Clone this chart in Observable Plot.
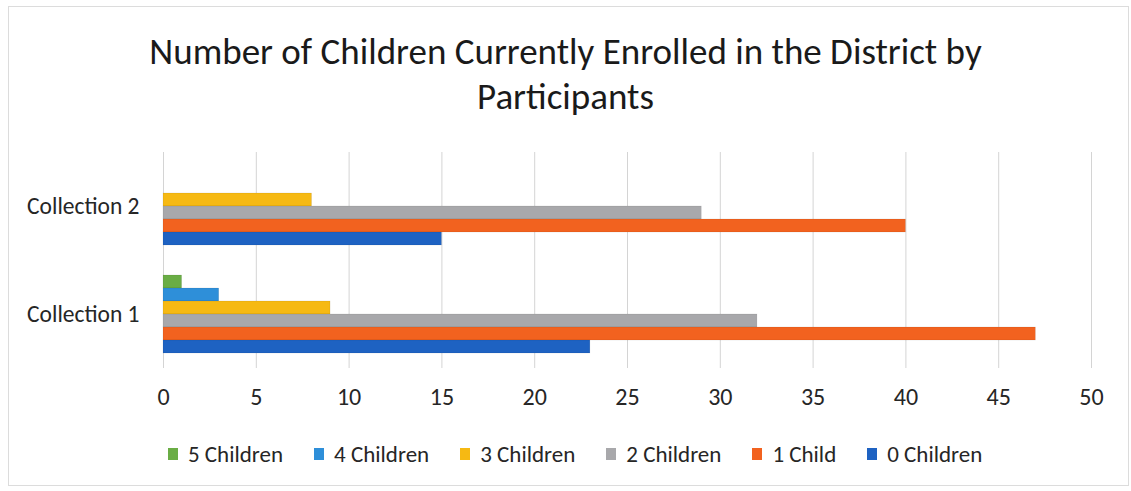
<!DOCTYPE html>
<html>
<head>
<meta charset="utf-8">
<script src="https://cdn.jsdelivr.net/npm/d3@7"></script>
<script src="https://cdn.jsdelivr.net/npm/@observablehq/plot@0.6"></script>
<style>
  html, body { margin: 0; padding: 0; background: #fff; }
  #chart {
    position: relative; width: 1131px; height: 491px; overflow: hidden;
    font-family: Carlito, Calibri, Lato, "Open Sans", sans-serif; color: #262626;
  }
  #frame {
    position: absolute; left: 8px; top: 6px; width: 1121px; height: 480px;
    border: 1px solid #dcdcdc; box-sizing: border-box;
  }
  #title {
    position: absolute; left: 0; top: 29px; width: 1131px; text-align: center;
    font-size: 37px; line-height: 45px; color: #1a1a1a;
  }
  #plot { position: absolute; left: 0; top: 140px; }
  #legend {
    position: absolute; left: 168px; top: 439px; display: flex; gap: 31px;
    font-size: 23px; line-height: 30px; color: #262626; white-space: nowrap;
  }
  #legend .item { display: flex; align-items: center; gap: 10px; }
  #legend .sw { width: 10px; height: 12px; display: inline-block; }
</style>
</head>
<body>
<div id="chart">
  <div id="frame"></div>
  <div id="title">Number of Children Currently Enrolled in the District by<br>Participants</div>
  <div id="plot"></div>
  <div id="legend"></div>
</div>
<script>
// Survey collections, listed top to bottom
const collections = ["Collection 2", "Collection 1"];
// Number of children enrolled, in legend order (top bar to bottom bar within a group)
const series = ["5 Children", "4 Children", "3 Children", "2 Children", "1 Child", "0 Children"];
// Participant counts per series
const collection1 = [1, 3, 9, 32, 47, 23];
const collection2 = [0, 0, 8, 29, 40, 15];
const seriesColors = ["#6aad45", "#2e8fd9", "#f6b913", "#a8a8ab", "#f2621f", "#1e62c2"];
const xTicks = [0, 5, 10, 15, 20, 25, 30, 35, 40, 45, 50];

const rows = [
  ...series.map((s, i) => ({collection: "Collection 1", series: s, value: collection1[i]})),
  ...series.map((s, i) => ({collection: "Collection 2", series: s, value: collection2[i]}))
].filter(d => d.value > 0);

const plot = Plot.plot({
  width: 1131,
  height: 285,
  marginLeft: 163,
  marginRight: 40,
  marginTop: 12,
  marginBottom: 57,
  style: {fontFamily: "Carlito, Calibri, Lato, 'Open Sans', sans-serif", fontSize: "24px", color: "#262626", background: "transparent", overflow: "visible"},
  x: {domain: [0, 50]},
  fy: {domain: collections, padding: 0, label: null},
  y: {domain: series, paddingInner: 0, paddingOuter: 0.95, axis: null},
  color: {domain: series, range: seriesColors},
  marks: [
    Plot.gridX(xTicks, {stroke: "#d4d4d4", strokeOpacity: 1, strokeWidth: 1}),
    Plot.barX(rows, {x: "value", y: "series", fy: "collection", fill: "series", stroke: "rgba(0,0,0,0.12)", strokeWidth: 0.6}),
    Plot.axisX(xTicks, {anchor: "bottom", tickSize: 0, tickPadding: 19, fontSize: 24, label: null, fill: "#262626"}),
    Plot.axisFy({anchor: "left", tickSize: 0, tickPadding: 24, fontSize: 23.5, label: null, fill: "#262626"})
  ]
});
document.getElementById("plot").appendChild(plot);

// Legend built from the same series and colours
const legend = document.getElementById("legend");
series.forEach((s, i) => {
  const item = document.createElement("span");
  item.className = "item";
  const sw = document.createElement("span");
  sw.className = "sw";
  sw.style.background = seriesColors[i];
  const label = document.createElement("span");
  label.textContent = s;
  item.append(sw, label);
  legend.appendChild(item);
});
</script>
</body>
</html>
